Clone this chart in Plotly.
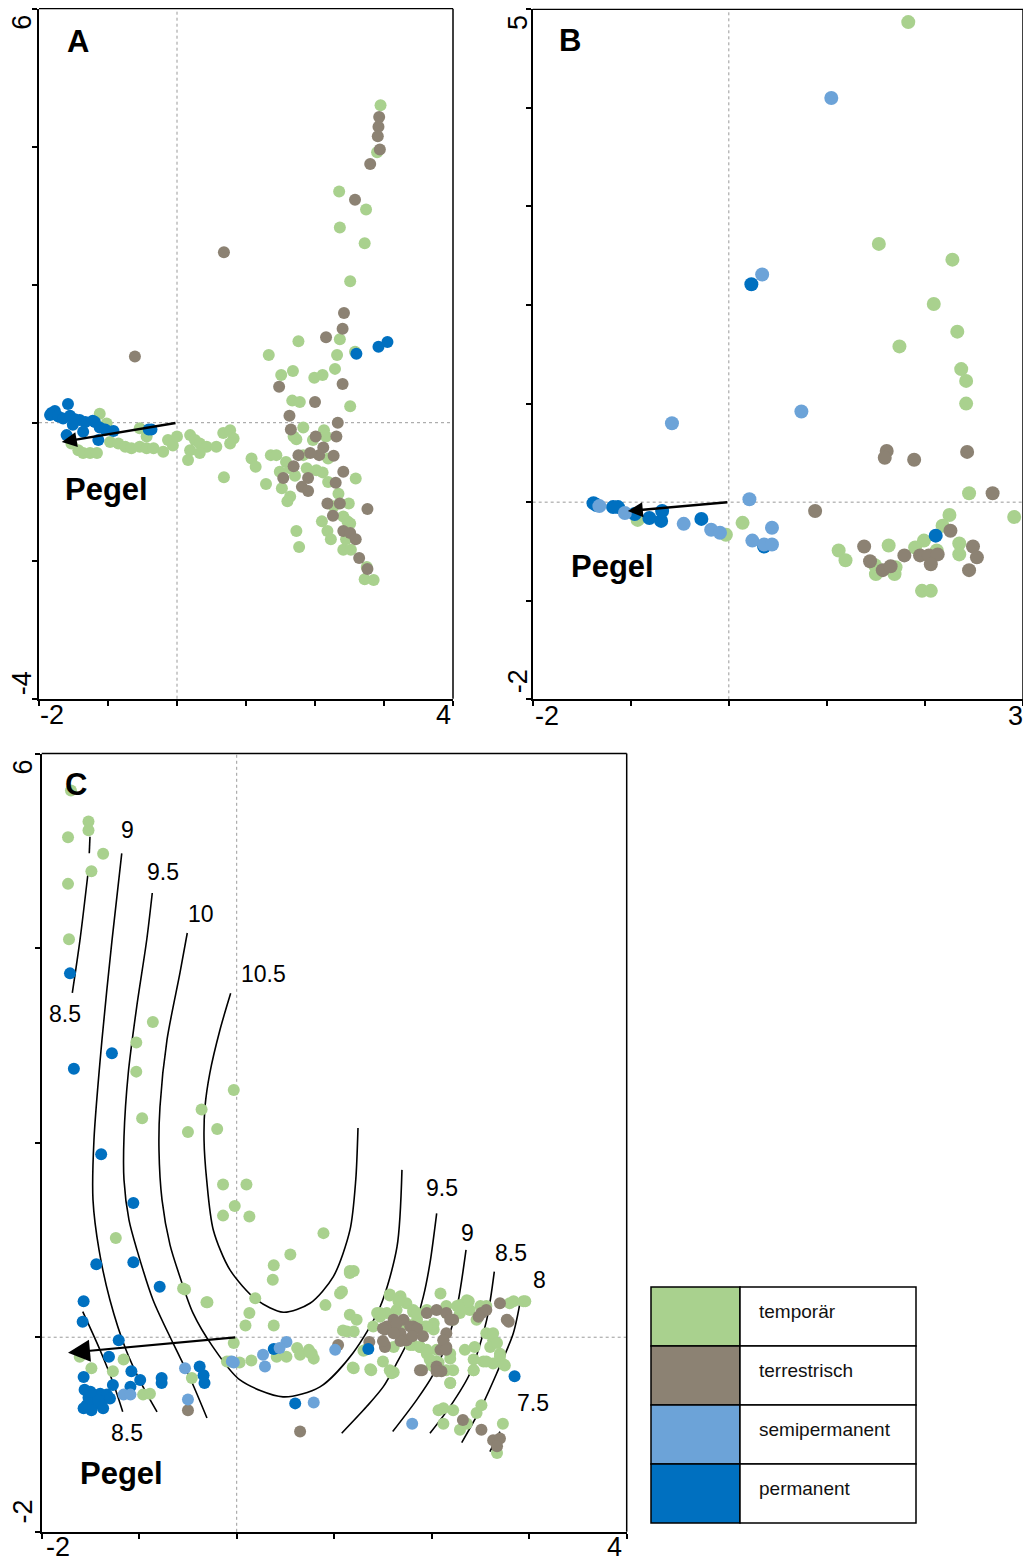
import plotly.graph_objects as go

W, H = 1023, 1564

# ---------------- DATA (data coordinates) ----------------
CATEGORIES = ["temporär", "terrestrisch", "semipermanent", "permanent"]
COLORS = {"temporär": "#A9D18E", "terrestrisch": "#8C8273",
          "semipermanent": "#6CA3D8", "permanent": "#0070C0"}

# Panel A
A_TEMP = [(2.95, 4.60), (2.90, 3.92), (2.35, 3.35), (2.74, 3.09), (2.36, 2.83), (2.72, 2.60), (2.51, 2.05),
          (2.36, 1.21), (1.76, 1.18), (2.58, 1.03), (1.33, 0.98), (2.32, 0.98), (1.51, 0.69), (1.68, 0.75),
          (2.29, 0.78), (1.99, 0.65), (2.11, 0.69), (1.67, 0.32), (1.78, 0.30), (2.51, 0.24), (1.83, -0.07),
          (2.13, -0.11), (2.16, -0.20), (1.69, -0.20), (1.73, -0.24), (1.97, -0.25), (1.83, -0.47), (2.19, -0.52),
          (1.36, -0.47), (1.44, -0.47), (1.08, -0.52), (1.14, -0.64), (1.58, -0.57), (1.64, -0.66), (1.49, -0.71),
          (1.71, -0.77), (1.88, -0.66), (2.02, -0.69), (2.11, -0.72), (2.59, -0.81), (2.19, -0.86), (1.29, -0.89),
          (1.52, -0.95), (1.64, -1.07), (1.60, -1.14), (2.34, -1.03), (2.27, -1.21), (2.49, -1.17), (2.41, -1.36),
          (2.47, -1.43), (2.51, -1.46), (2.10, -1.43), (2.18, -1.57), (2.23, -1.69), (2.45, -1.69), (1.73, -1.57),
          (1.77, -1.80), (2.41, -1.84), (2.52, -1.84), (2.75, -2.09), (2.72, -2.27), (2.85, -2.28),
          (-1.12, 0.13), (-1.02, -0.01), (-1.53, -0.30), (-1.43, -0.40), (-1.36, -0.44), (-1.26, -0.44),
          (-1.16, -0.44), (-0.97, -0.28), (-0.85, -0.30), (-0.75, -0.35), (-0.66, -0.37), (-0.54, -0.35),
          (-0.44, -0.37), (-0.34, -0.37), (-0.20, -0.42), (-0.13, -0.25), (-0.06, -0.33), (0.0, -0.20),
          (-0.54, -0.08), (-0.44, -0.20), (0.19, -0.18), (0.26, -0.25), (0.33, -0.30), (0.43, -0.35),
          (0.57, -0.35), (0.19, -0.40), (0.16, -0.54), (0.33, -0.44), (0.67, -0.15), (0.77, -0.11),
          (0.82, -0.23), (0.77, -0.30), (0.68, -0.79)]
A_TERR = [(2.93, 4.43), (2.92, 4.29), (2.91, 4.15), (2.94, 3.96), (2.80, 3.75), (2.58, 3.23), (0.68, 2.47),
          (2.42, 1.59), (2.40, 1.36), (2.16, 1.24), (-0.61, 0.96), (1.48, 0.52), (2.40, 0.56), (2.00, 0.30),
          (1.63, 0.10), (2.33, 0.00), (1.65, -0.10), (2.01, -0.20), (2.31, -0.20), (2.12, -0.36), (2.06, -0.47),
          (1.93, -0.44), (1.76, -0.47), (2.27, -0.48), (1.69, -0.63), (1.54, -0.80), (1.90, -0.80), (2.41, -0.71),
          (2.30, -0.87), (1.81, -0.93), (1.90, -0.99), (2.18, -1.17), (2.36, -1.17), (2.76, -1.25), (2.26, -1.35),
          (2.41, -1.57), (2.51, -1.60), (2.59, -1.69), (2.64, -1.96), (2.76, -2.12)]
A_SEMI = []
A_PERM = [(3.05, 1.17), (2.92, 1.10), (2.60, 1.00), (-1.58, 0.27), (-1.82, 0.14), (-1.77, 0.17), (-1.84, 0.11),
          (-1.72, 0.09), (-1.65, 0.06), (-1.55, 0.10), (-1.48, 0.05), (-1.41, 0.04), (-1.33, 0.01), (-1.19, 0.01),
          (-1.22, 0.03), (-1.12, -0.07), (-1.04, -0.10), (-0.92, -0.12), (-1.60, -0.18), (-1.36, -0.13),
          (-1.14, -0.25), (-1.51, -0.03), (-0.37, -0.10), (-0.41, -0.10)]
A_PEGEL = (-1.67, -0.28)

# Panel B
B_TEMP = [(1.83, 4.87), (1.53, 2.62), (2.28, 2.46), (2.09, 2.01), (2.33, 1.73), (1.74, 1.58), (2.37, 1.35),
          (2.42, 1.23), (2.42, 1.00), (2.45, 0.09), (2.91, -0.15), (2.25, -0.13), (2.18, -0.24), (2.35, -0.42),
          (2.35, -0.53), (2.12, -0.49), (1.99, -0.39), (1.90, -0.46), (1.63, -0.44), (1.49, -0.64), (1.50, -0.73),
          (1.70, -0.66), (1.69, -0.73), (1.12, -0.49), (1.19, -0.59), (1.97, -0.90), (2.06, -0.90), (0.14, -0.21),
          (-0.03, -0.33), (-0.93, -0.18)]
B_TERR = [(1.61, 0.52), (1.59, 0.45), (1.89, 0.43), (2.43, 0.51), (2.69, 0.09), (0.88, -0.09), (2.26, -0.29),
          (2.49, -0.45), (2.53, -0.56), (2.45, -0.69), (1.95, -0.54), (2.04, -0.54), (2.13, -0.53), (2.06, -0.63),
          (1.79, -0.54), (1.38, -0.45), (1.44, -0.60), (1.57, -0.69), (1.65, -0.65)]
B_SEMI = [(1.045, 4.10), (0.34, 2.31), (0.74, 0.92), (-0.58, 0.80), (0.21, 0.03), (0.44, -0.26), (0.24, -0.39),
          (0.36, -0.43), (0.44, -0.43), (-0.18, -0.28), (-0.09, -0.31), (-0.46, -0.22), (-1.32, -0.04),
          (-1.06, -0.11)]
B_PERM = [(0.23, 2.21), (2.11, -0.34), (0.36, -0.45), (-0.28, -0.17), (-0.69, -0.19), (-0.68, -0.09),
          (-0.81, -0.16), (-0.96, -0.12), (-1.18, -0.05), (-1.13, -0.05), (-1.38, -0.01), (-1.35, -0.03)]
B_PEGEL = (-1.03, -0.09)

# Panel C
C_TEMP = [(-1.70, 5.62), (-1.52, 5.30), (-1.52, 5.21), (-1.73, 5.14), (-1.37, 4.97), (-1.49, 4.79), (-1.73, 4.66),
          (-1.72, 4.09), (-0.86, 3.24), (-1.03, 3.03), (-1.03, 2.73), (-0.03, 2.54), (-0.36, 2.34), (-0.97, 2.25),
          (-0.50, 2.11), (-0.20, 2.14), (-0.14, 1.57), (0.10, 1.57), (-0.02, 1.35), (-0.14, 1.25), (0.13, 1.24),
          (0.89, 1.07), (0.55, 0.85), (0.38, 0.74), (0.37, 0.59), (1.16, 0.68), (1.20, 0.68), (0.19, 0.40),
          (-0.30, 0.36), (-0.53, 0.49), (1.06, 0.45), (0.91, 0.33), (0.13, 0.25), (0.09, 0.12), (0.38, 0.12),
          (1.16, 0.23), (1.23, 0.18), (1.13, 0.06), (-0.03, -0.06), (-0.10, -0.25), (0.03, -0.26), (0.15, -0.24),
          (0.41, -0.20), (0.51, -0.20), (0.62, -0.11), (0.74, -0.13), (0.79, -0.22), (0.65, -0.18), (0.77, -0.17),
          (1.20, -0.32), (1.38, -0.34), (1.61, -0.36), (1.50, -0.25), (-0.46, -0.42), (1.32, -0.13), (1.40, 0.11),
          (1.47, 0.21), (1.57, 0.44), (1.68, 0.42), (1.81, 0.26), (1.93, 0.11), (2.02, 0.08), (1.78, -0.08),
          (1.88, -0.10), (2.05, -0.13), (2.05, -0.25), (2.07, -0.75), (-1.24, 1.02), (-1.61, -0.20),
          (-1.49, -0.32), (-1.27, -0.35), (-1.16, -0.23), (-0.96, -0.59), (-0.89, -0.58), (-0.31, 0.36),
          (-0.55, 0.50), (-0.07, -0.25), (1.09, 0.07), (1.20, 0.06), (1.30, -0.14), (0.75, -0.16),
          (1.19, -0.31), (1.37, -0.33), (1.59, -0.37), (1.57, 0.43), (1.74, 0.35), (1.44, 0.25), (1.54, 0.25),
          (1.64, 0.28), (1.81, 0.28), (1.95, 0.28), (2.09, 0.45), (2.15, 0.32), (2.26, 0.32), (2.36, 0.38),
          (2.39, 0.28), (2.50, 0.32), (2.56, 0.32), (2.80, 0.35), (2.94, 0.37), (2.02, 0.14), (1.85, 0.18),
          (1.74, 0.14), (1.68, 0.11), (1.81, -0.08), (1.88, -0.10), (1.95, 0.11), (2.22, 0.18), (2.29, 0.25),
          (2.46, 0.18), (2.56, 0.04), (2.63, -0.03), (2.60, -0.10), (2.70, -0.17), (2.75, -0.29), (2.63, -0.27),
          (2.53, -0.25), (2.43, -0.34), (2.44, -0.10), (2.34, -0.13), (2.19, -0.22), (2.22, -0.34), (2.07, -0.26),
          (2.00, -0.29), (1.95, -0.17), (2.19, -0.47), (2.12, -0.73), (2.22, -0.75), (2.29, -0.95), (2.46, -0.78),
          (2.51, -0.70), (2.36, -0.89), (2.12, -0.89), (2.73, -0.89), (2.67, -1.19), (1.66, 0.37), (1.47, 0.25),
          (1.85, 0.25), (2.15, 0.25), (2.29, 0.33), (2.38, 0.37), (2.84, 0.37), (2.96, 0.37), (1.85, 0.11),
          (1.61, -0.10), (1.95, -0.13), (1.98, -0.23), (2.19, -0.17), (2.15, -0.34), (2.43, -0.23), (2.63, 0.04),
          (2.67, -0.06), (2.70, -0.20), (1.57, -0.34), (2.19, -0.47), (2.43, -0.34), (2.56, -0.25), (2.74, -0.28),
          (1.08, 0.47), (1.16, 0.66)]
C_TERR = [(-0.50, -0.75), (0.65, -0.97), (1.04, -0.08), (1.36, -0.05), (1.52, -0.08), (1.52, 0.08), (1.62, 0.15),
          (1.61, 0.16), (1.54, 0.11), (1.74, -0.03), (1.81, 0.11), (1.90, -0.34), (1.61, 0.18), (1.50, 0.09),
          (1.71, 0.18), (1.78, 0.11), (1.68, 0.04), (1.85, 0.09), (1.95, 0.25), (2.05, 0.28), (2.15, 0.25),
          (2.22, 0.18), (2.15, 0.04), (2.12, -0.03), (2.09, -0.13), (2.15, -0.10), (1.88, -0.34), (2.05, -0.30),
          (2.10, -0.35), (2.70, 0.35), (2.77, 0.18), (2.51, 0.25), (2.32, -0.85), (2.51, -0.95), (2.63, -1.06),
          (2.70, -1.04), (2.67, -1.12), (1.74, -0.03), (1.52, -0.10), (2.19, 0.18), (1.64, 0.14), (1.80, 0.01),
          (1.68, -0.04), (1.91, 0.01), (2.12, -0.03), (2.15, -0.13), (1.50, -0.04), (2.56, 0.28), (2.48, 0.21),
          (2.05, -0.35), (1.61, 0.04), (2.79, 0.16)]
C_SEMI = [(-0.53, -0.32), (-0.50, -0.64), (-1.16, -0.59), (-1.09, -0.59), (-0.03, -0.26), (0.27, -0.18),
          (0.29, -0.30), (0.51, -0.05), (0.79, -0.67), (1.01, -0.13), (1.80, -0.89), (0.44, -0.11), (-0.05, -0.25)]
C_PERM = [(-1.71, 3.74), (-1.28, 2.92), (-1.67, 2.76), (-1.39, 1.88), (-1.06, 1.38), (-1.44, 0.75), (-1.06, 0.77),
          (-0.79, 0.52), (-1.57, 0.37), (-1.58, 0.16), (-1.21, -0.03), (-1.31, -0.20), (-1.08, -0.35),
          (-0.77, -0.42), (-0.77, -0.47), (-1.57, -0.41), (-1.56, -0.54), (-1.47, -0.59), (-1.40, -0.58),
          (-1.33, -0.59), (-1.54, -0.70), (-1.47, -0.70), (-1.39, -0.68), (-1.30, -0.63), (-1.57, -0.73),
          (-1.49, -0.75), (-1.37, -0.73), (-0.99, -0.44), (-1.09, -0.51), (-1.27, -0.49), (-0.38, -0.30),
          (-0.34, -0.39), (-0.33, -0.47), (-1.52, -0.62), (-1.42, -0.65), (-1.50, -0.56),
          (0.60, -0.68), (1.35, -0.12), (0.38, -0.12), (2.85, -0.40)]
C_PEGEL = (-1.73, -0.16)

# Fitted surface contour lines in panel C (data coordinates)
C_CONT_85_TOP = [(-1.522, 4.795), (-1.607, 4.086), (-1.686, 3.539)]
C_CONT_85_SEG = [(-1.505, 5.145), (-1.512, 4.974)]
C_CONT_85_LOW = [(-1.579, 0.263), (-1.402, -0.131), (-1.266, -0.473), (-1.169, -0.765)]
C_CONT_9_LEFT = [(-1.179, 4.974), (-1.279, 4.08), (-1.382, 3.056), (-1.464, 2.028), (-1.474, 1.412),
                 (-1.412, 0.898), (-1.30, 0.383), (-1.135, -0.131), (-0.971, -0.49), (-0.817, -0.768)]
C_CONT_95_LEFT = [(-0.866, 4.566), (-0.923, 4.083), (-1.026, 3.394), (-1.112, 2.716), (-1.156, 2.058),
                  (-1.156, 1.617), (-1.105, 1.206), (-1.023, 0.898), (-0.858, 0.383), (-0.654, -0.059),
                  (-0.479, -0.419), (-0.305, -0.83)]
C_CONT_10 = [(-0.507, 4.155), (-0.582, 3.744), (-0.715, 3.056), (-0.787, 2.367), (-0.797, 1.925),
             (-0.766, 1.412), (-0.684, 0.949), (-0.582, 0.62), (-0.449, 0.25), (-0.244, -0.099),
             (0.033, -0.439), (0.475, -0.613), (0.854, -0.51), (1.193, -0.161), (1.47, 0.311),
             (1.644, 0.928), (1.695, 1.72)]
C_CONT_105 = [(-0.062, 3.535), (-0.172, 3.158), (-0.276, 2.713), (-0.325, 2.37), (-0.335, 2.028),
              (-0.308, 1.617), (-0.24, 1.103), (-0.069, 0.692), (0.205, 0.383), (0.478, 0.257),
              (0.752, 0.349), (0.991, 0.623), (1.162, 1.103), (1.221, 1.617), (1.244, 2.151)]
C_CONT_95_RIGHT = [(2.051, 1.274), (1.982, 0.761), (1.914, 0.417), (1.811, 0.075), (1.641, -0.267),
                   (1.504, -0.508), (1.333, -0.713), (1.077, -0.987)]
C_CONT_9_RIGHT = [(2.352, 0.897), (2.26, 0.311), (2.146, -0.079), (2.013, -0.387), (1.846, -0.644), (1.60, -0.97)]
C_CONT_85_RIGHT = [(2.642, 0.674), (2.564, 0.178), (2.393, -0.37), (2.188, -0.713), (1.982, -0.987)]
C_CONT_8_RIGHT = [(2.913, 0.394), (2.837, 0.041), (2.667, -0.37), (2.495, -0.747), (2.308, -1.083)]
C_CONT_75 = [(2.70, -0.97), (2.597, -1.176)]

C_LABEL_TEXT = ["9", "9.5", "10", "10.5", "8.5", "8.5", "9.5", "9", "8.5", "8", "7.5"]
C_LABEL_X = [-1.125, -0.756, -0.366, 0.27, -1.761, -1.125, 2.106, 2.372, 2.813, 3.11, 3.038]
C_LABEL_Y = [5.216, 4.784, 4.353, 3.736, 3.324, -0.984, 1.534, 1.072, 0.866, 0.589, -0.675]

# ---------------- FIGURE ----------------
FONT = "Liberation Sans, Arial, sans-serif"


def pxx(x):
    return x / W


def pyy(y):
    return 1 - y / H


fig = go.Figure()

panels = [
    ("x", "y", [A_TEMP, A_TERR, A_PERM, A_SEMI], 12),
    ("x2", "y2", [B_TEMP, B_TERR, B_PERM, B_SEMI], 14),
    ("x3", "y3", [C_TEMP, C_TERR, C_PERM, C_SEMI], 12),
]
order = ["temporär", "terrestrisch", "permanent", "semipermanent"]

# contour lines first (behind points)
for line in [C_CONT_85_TOP, C_CONT_85_SEG, C_CONT_85_LOW, C_CONT_9_LEFT, C_CONT_95_LEFT, C_CONT_10,
             C_CONT_105, C_CONT_95_RIGHT, C_CONT_9_RIGHT, C_CONT_85_RIGHT, C_CONT_8_RIGHT, C_CONT_75]:
    fig.add_trace(go.Scatter(x=[p[0] for p in line], y=[p[1] for p in line], mode="lines",
                             line=dict(color="black", width=1.6, shape="spline", smoothing=0.8),
                             xaxis="x3", yaxis="y3", showlegend=False, hoverinfo="skip"))

for xa, ya, groups, size in panels:
    for name, pts in zip(order, groups):
        if not pts:
            continue
        fig.add_trace(go.Scatter(x=[p[0] for p in pts], y=[p[1] for p in pts], mode="markers",
                                 marker=dict(color=COLORS[name], size=size, line=dict(width=0)),
                                 name=name, xaxis=xa, yaxis=ya, showlegend=False))

axis_common = dict(showgrid=False, zeroline=False, showline=True, linecolor="black", linewidth=2,
                   ticks="outside", ticklen=5, tickwidth=1.5, tickcolor="black", showticklabels=False,
                   fixedrange=True)

fig.update_layout(
    width=W, height=H, margin=dict(l=0, r=0, t=0, b=0),
    paper_bgcolor="white", plot_bgcolor="white", showlegend=False,
    font=dict(family=FONT, color="black"),
    xaxis=dict(domain=[pxx(39), pxx(453)], range=[-2, 4], dtick=1, tick0=0, anchor="y", **axis_common),
    yaxis=dict(domain=[pyy(698.7), pyy(8.7)], range=[-4, 6], dtick=2, tick0=0, anchor="x", **axis_common),
    xaxis2=dict(domain=[pxx(532.7), 1.0], range=[-2, 3], dtick=1, tick0=0, anchor="y2", **axis_common),
    yaxis2=dict(domain=[pyy(699.3), pyy(9.3)], range=[-2, 5], dtick=1, tick0=0, anchor="x2", **axis_common),
    xaxis3=dict(domain=[pxx(41.7), pxx(626.7)], range=[-2, 4], dtick=1, tick0=0, anchor="y3", **axis_common),
    yaxis3=dict(domain=[pyy(1531.8), pyy(753.5)], range=[-2, 6], dtick=2, tick0=0, anchor="x3", **axis_common),
)

shapes = []
for xa, ya in [("x", "y"), ("x2", "y2"), ("x3", "y3")]:
    # dotted zero lines
    shapes.append(dict(type="line", xref=xa, yref=ya + " domain", x0=0, x1=0, y0=0, y1=1,
                       line=dict(color="#9A9A9A", width=1, dash="dot"), layer="below"))
    shapes.append(dict(type="line", xref=xa + " domain", yref=ya, x0=0, x1=1, y0=0, y1=0,
                       line=dict(color="#9A9A9A", width=1, dash="dot"), layer="below"))
    # top and right frame
    shapes.append(dict(type="line", xref=xa + " domain", yref=ya + " domain", x0=0, x1=1, y0=1, y1=1,
                       line=dict(color="black", width=1.3)))
    shapes.append(dict(type="line", xref=xa + " domain", yref=ya + " domain", x0=1, x1=1, y0=0, y1=1,
                       line=dict(color="black", width=1.5)))

# legend table
rows = [1287, 1346, 1405, 1464, 1523]
for i, name in enumerate(CATEGORIES):
    shapes.append(dict(type="rect", xref="paper", yref="paper", x0=pxx(651), x1=pxx(740),
                       y0=pyy(rows[i + 1]), y1=pyy(rows[i]), fillcolor=COLORS[name],
                       line=dict(color="black", width=1.5)))
    shapes.append(dict(type="rect", xref="paper", yref="paper", x0=pxx(740), x1=pxx(916),
                       y0=pyy(rows[i + 1]), y1=pyy(rows[i]), fillcolor="white",
                       line=dict(color="black", width=1.5)))

annotations = []
for i, name in enumerate(CATEGORIES):
    annotations.append(dict(text=name, xref="paper", yref="paper", x=pxx(757), y=pyy(rows[i] + 24),
                            xanchor="left", yanchor="middle", showarrow=False,
                            font=dict(size=19, family=FONT, color="#111111")))

# tick labels (only the end values)
tick_labels = [
    ("6", 21.7, 22, -90), ("-4", 21.7, 683.5, -90), ("-2", 51.7, 715, 0), ("4", 443.5, 715, 0),
    ("5", 517.5, 22.5, -90), ("-2", 517.5, 681.7, -90), ("-2", 546.7, 716, 0), ("3", 1015, 716, 0),
    ("6", 22.5, 767, -90), ("-2", 22.5, 1512, -90), ("-2", 57.5, 1547, 0), ("4", 614, 1547, 0),
]
for t, x, y, ang in tick_labels:
    annotations.append(dict(text=t, xref="paper", yref="paper", x=pxx(x), y=pyy(y), xanchor="center",
                            yanchor="middle", showarrow=False, textangle=ang,
                            font=dict(size=27, family=FONT, color="black")))

# panel letters
for t, x, y in [("A", 78.3, 42), ("B", 570, 40.5), ("C", 75.5, 784)]:
    annotations.append(dict(text="<b>%s</b>" % t, xref="paper", yref="paper", x=pxx(x), y=pyy(y),
                            xanchor="center", yanchor="middle", showarrow=False,
                            font=dict(size=31, family=FONT, color="black")))

# Pegel arrows and labels
for xa, ya, head, aw, asz, lab in [("x", "y", A_PEGEL, 2.5, 1.2, (106.7, 489)),
                                    ("x2", "y2", B_PEGEL, 2.5, 1.2, (612.5, 566)),
                                    ("x3", "y3", C_PEGEL, 2.2, 2.0, (121.7, 1473))]:
    annotations.append(dict(text="", x=head[0], y=head[1], xref=xa, yref=ya, ax=0, ay=0,
                            axref=xa, ayref=ya, showarrow=True, arrowhead=2, arrowsize=asz,
                            arrowwidth=aw, arrowcolor="black", standoff=0, startstandoff=0))
    annotations.append(dict(text="<b>Pegel</b>", xref="paper", yref="paper", x=pxx(lab[0]), y=pyy(lab[1]),
                            xanchor="center", yanchor="middle", showarrow=False,
                            font=dict(size=31, family=FONT, color="black")))

# contour labels
for t, x, y in zip(C_LABEL_TEXT, C_LABEL_X, C_LABEL_Y):
    annotations.append(dict(text=t, x=x, y=y, xref="x3", yref="y3", xanchor="center", yanchor="middle",
                            showarrow=False, font=dict(size=23, family=FONT, color="black")))

fig.update_layout(shapes=shapes, annotations=annotations)
fig.write_html("out.html")
